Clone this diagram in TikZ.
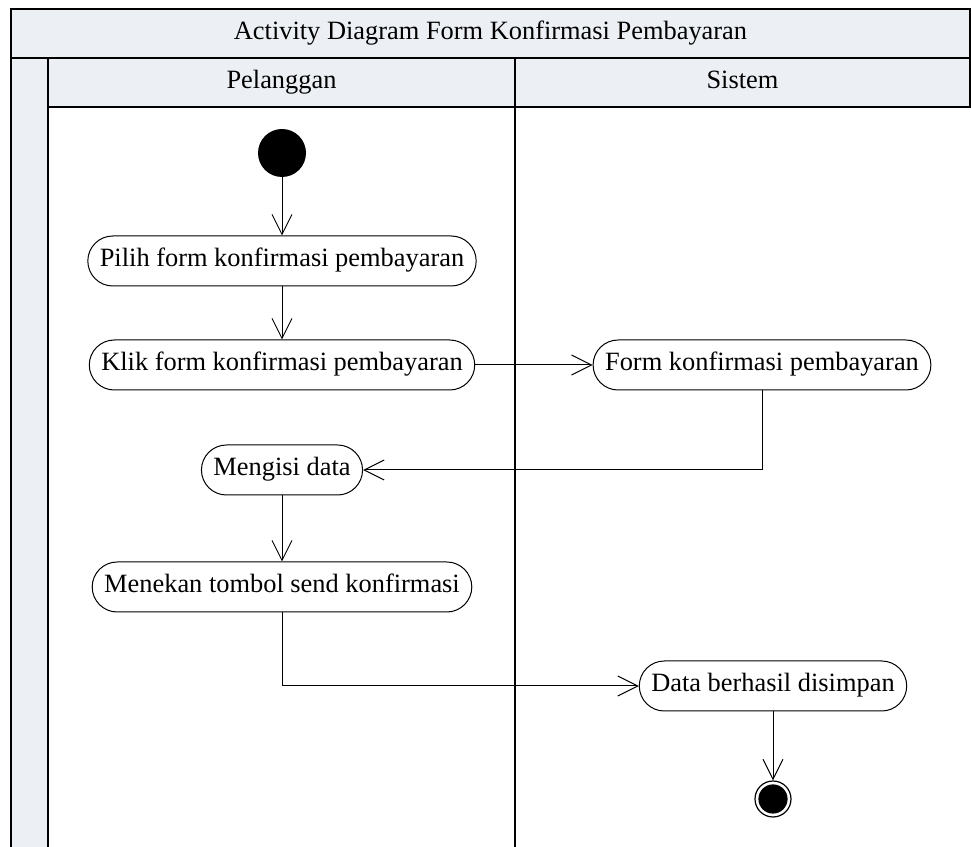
\documentclass[tikz,border=0pt]{standalone}
\usepackage{fontspec}
\setmainfont{Liberation Serif}
\usetikzlibrary{arrows.meta}
\definecolor{headfill}{RGB}{236,239,244}
\tikzstyle{lane} = [rectangle, minimum height = 24.5pt, text height = 9pt, text depth = 3pt, text centered, draw = black, line width = 0.8pt, fill = headfill, font = \fontsize{13.2}{16}\selectfont]
\tikzstyle{activity} = [rectangle, rounded corners = 12.5pt, minimum height = 25pt, inner xsep = 6pt, text height = 9pt, text depth = 3pt, text centered, draw = black, line width = 0.5pt, fill = white, font = \fontsize{13.2}{16}\selectfont]
\tikzstyle{initial} = [circle, fill = black, minimum size = 24pt, inner sep = 0pt]
\tikzstyle{final} = [circle, draw = black, line width = 0.6pt, minimum size = 18pt, inner sep = 0pt, path picture = {\fill[black] (path picture bounding box.center) circle (7.3pt);}]
\tikzstyle{arrow} = [line width = 0.5pt, -{Straight Barb[length = 10pt, width = 10pt, line width = 0.5pt]}]
\begin{document}
\begin{tikzpicture}[node distance = 54pt, x = 0.5pt, y = 0.5pt]
	\useasboundingbox (0,0) rectangle (971,847);
	\clip (0,0) rectangle (971,847);
	
	% swimlanes
	\fill[headfill] (11,-10) rectangle (48,789);
	\draw[line width = 0.8pt] (11,789) -- (11,-10) (48,789) -- (48,-10);
	\draw[line width = 0.8pt] (515,740) -- (515,-10);
	\node[lane, minimum width = 479.5pt](title) at (490.5,813.5){Activity Diagram Form Konfirmasi Pembayaran};
	\node[lane, minimum width = 233.5pt](Lane 1) at (281.5,764.5){Pelanggan};
	\node[lane, minimum width = 227.5pt](Lane 2) at (742.5,764.5){Sistem};
	
	% activities
	\node[initial](start) at (282,694){};
	\node[activity,below of =start](Activity 1){Pilih form konfirmasi pembayaran};
	\node[activity,below of =Activity 1,node distance = 52pt](Activity 2){Klik form konfirmasi pembayaran};
	\node[activity,right of =Activity 2,node distance = 240pt](Activity 3){Form konfirmasi pembayaran};
	\node[activity,below of =Activity 2,node distance = 52.5pt](Activity 4){Mengisi data};
	\node[activity,below of =Activity 4,node distance = 58.5pt](Activity 5){Menekan tombol send konfirmasi};
	\node[activity,below of =Activity 5,node distance = 49.5pt,xshift = 245.5pt](Activity 6){Data berhasil disimpan};
	\node[final,below of =Activity 6,node distance = 56.5pt](stop){};
	
	\draw [arrow](start)--(Activity 1);
	\draw [arrow](Activity 1)--(Activity 2);
	\draw [arrow](Activity 2)--(Activity 3);
	\draw [arrow](Activity 3)|-(Activity 4);
	\draw [arrow](Activity 4)--(Activity 5);
	\draw [arrow](Activity 5)|-(Activity 6);
	\draw [arrow](Activity 6)--(stop);
\end{tikzpicture}
\end{document}
